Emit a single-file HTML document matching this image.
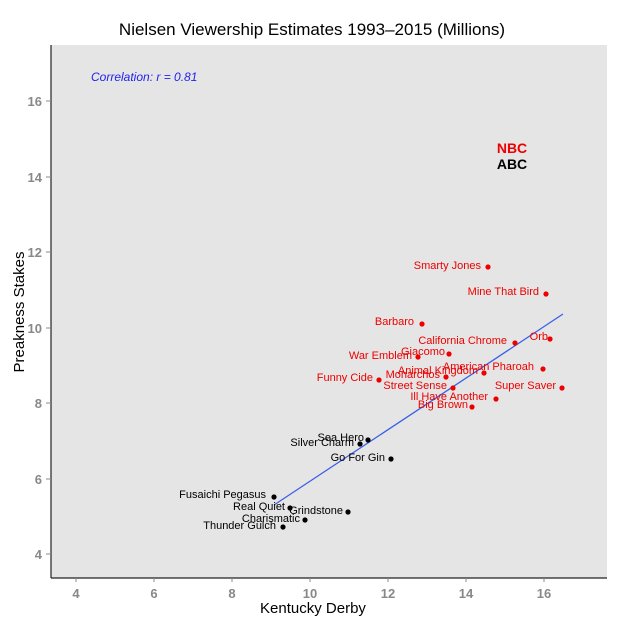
<!DOCTYPE html>
<html><head><style>body{margin:0;background:#fff}</style></head><body>
<svg width="625" height="625" xmlns="http://www.w3.org/2000/svg" font-family="Liberation Sans, sans-serif">
<rect x="0" y="0" width="625" height="625" fill="#fff"/>
<rect x="51" y="45" width="556" height="533" fill="#e5e5e5"/>
<line x1="51" y1="45" x2="51" y2="578" stroke="#222" stroke-width="1.2"/>
<line x1="51" y1="578" x2="607" y2="578" stroke="#222" stroke-width="1.2"/>
<text x="312" y="35" font-size="17" text-anchor="middle">Nielsen Viewership Estimates 1993–2015 (Millions)</text>
<g font-size="13" font-weight="bold" fill="#888" text-anchor="middle">
<text x="76" y="598">4</text><text x="154" y="598">6</text><text x="232" y="598">8</text><text x="310" y="598">10</text><text x="388" y="598">12</text><text x="466" y="598">14</text><text x="544" y="598">16</text>
</g>
<g stroke="#888"><line x1="76" y1="578" x2="76" y2="582"/><line x1="154" y1="578" x2="154" y2="582"/><line x1="232" y1="578" x2="232" y2="582"/><line x1="310" y1="578" x2="310" y2="582"/><line x1="388" y1="578" x2="388" y2="582"/><line x1="466" y1="578" x2="466" y2="582"/><line x1="544" y1="578" x2="544" y2="582"/>
<line x1="46" y1="554" x2="51" y2="554"/><line x1="46" y1="479" x2="51" y2="479"/><line x1="46" y1="403" x2="51" y2="403"/><line x1="46" y1="328" x2="51" y2="328"/><line x1="46" y1="252" x2="51" y2="252"/><line x1="46" y1="177" x2="51" y2="177"/><line x1="46" y1="101" x2="51" y2="101"/></g>
<g font-size="13" font-weight="bold" fill="#888" text-anchor="end">
<text x="42" y="559">4</text><text x="42" y="484">6</text><text x="42" y="408">8</text><text x="42" y="333">10</text><text x="42" y="257">12</text><text x="42" y="182">14</text><text x="42" y="106">16</text>
</g>
<text x="313" y="613" font-size="15" text-anchor="middle">Kentucky Derby</text>
<text transform="translate(24,312) rotate(-90)" font-size="15" text-anchor="middle">Preakness Stakes</text>
<text x="91" y="81" font-size="12" font-style="italic" fill="#2222ee">Correlation: r = 0.81</text>
<text x="512" y="153" font-size="14" font-weight="bold" fill="#ee0000" text-anchor="middle">NBC</text>
<text x="512" y="169" font-size="14" font-weight="bold" fill="#000" text-anchor="middle">ABC</text>
<line x1="274" y1="505" x2="563" y2="314" stroke="#3a5fe8" stroke-width="1.3"/>
<g fill="#ee0000" font-size="11" text-anchor="end">
<circle cx="488" cy="267" r="2.6"/><text x="481" y="269">Smarty Jones</text>
<circle cx="546" cy="294" r="2.6"/><text x="539" y="295">Mine That Bird</text>
<circle cx="422" cy="324" r="2.6"/><text x="414" y="325">Barbaro</text>
<circle cx="515" cy="343" r="2.6"/><text x="507" y="344">California Chrome</text>
<circle cx="550" cy="339" r="2.6"/><text x="548" y="340">Orb</text>
<circle cx="449" cy="354" r="2.6"/><text x="445" y="355">Giacomo</text>
<circle cx="418" cy="357" r="2.6"/><text x="412" y="359">War Emblem</text>
<circle cx="543" cy="369" r="2.6"/><text x="534" y="370">American Pharoah</text>
<circle cx="484" cy="373" r="2.6"/><text x="478" y="374">Animal Kingdom</text>
<circle cx="446" cy="377" r="2.6"/><text x="440" y="378">Monarchos</text>
<circle cx="379" cy="380" r="2.6"/><text x="373" y="381">Funny Cide</text>
<circle cx="453" cy="388" r="2.6"/><text x="447" y="389">Street Sense</text>
<circle cx="562" cy="388" r="2.6"/><text x="556" y="389">Super Saver</text>
<circle cx="496" cy="399" r="2.6"/><text x="488" y="400">Ill Have Another</text>
<circle cx="472" cy="407" r="2.6"/><text x="468" y="408">Big Brown</text>
</g>
<g fill="#000" font-size="11" text-anchor="end">
<circle cx="368" cy="440" r="2.6"/><text x="364" y="441">Sea Hero</text>
<circle cx="360" cy="444" r="2.6"/><text x="354" y="446">Silver Charm</text>
<circle cx="391" cy="459" r="2.6"/><text x="385" y="461">Go For Gin</text>
<circle cx="274" cy="497" r="2.6"/><text x="266" y="498">Fusaichi Pegasus</text>
<circle cx="290" cy="508" r="2.6"/><text x="285" y="510">Real Quiet</text>
<circle cx="348" cy="512" r="2.6"/><text x="343" y="514">Grindstone</text>
<circle cx="305" cy="520" r="2.6"/><text x="300" y="522">Charismatic</text>
<circle cx="283" cy="527" r="2.6"/><text x="276" y="529">Thunder Gulch</text>
</g>
</svg>
</body></html>
